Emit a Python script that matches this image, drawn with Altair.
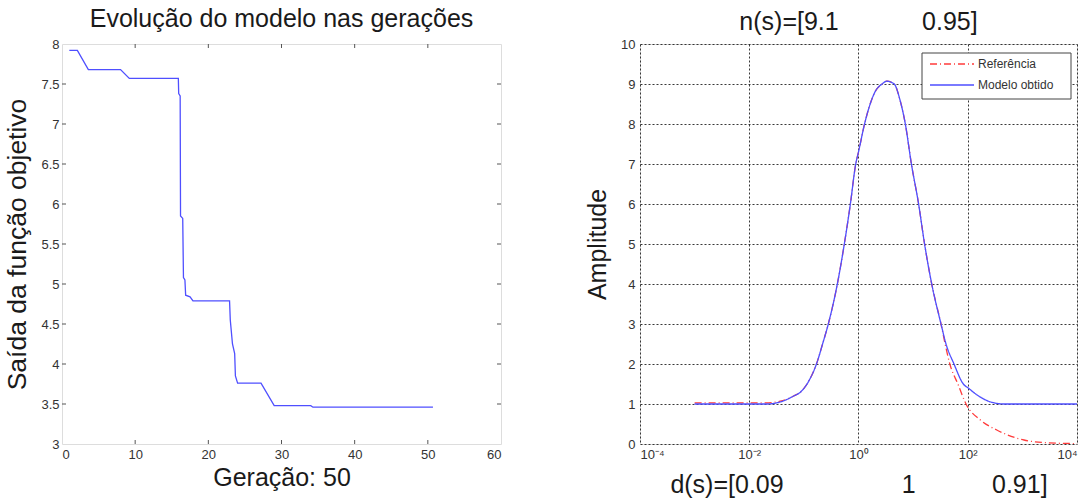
import altair as alt
import pandas as pd

FONT = "Liberation Sans"

# ---- Left panel: evolution of objective function over generations ----
gen = [1, 2.1, 3.6, 8.0, 9.2, 15.9, 15.95, 16.15, 16.2, 16.5, 16.6, 16.8, 16.9,
       17.5, 17.9, 22.9, 23.0, 23.3, 23.6, 23.7, 24.0, 27.2, 29.0, 34.0, 34.3, 50.7]
fobj = [7.92, 7.92, 7.68, 7.68, 7.57, 7.57, 7.38, 7.35, 5.85, 5.82, 5.08, 5.05, 4.86,
        4.84, 4.79, 4.79, 4.55, 4.25, 4.13, 3.85, 3.76, 3.76, 3.48, 3.48, 3.46, 3.46]
left_xticks = [0, 10, 20, 30, 40, 50, 60]
left_yticks = [3, 3.5, 4, 4.5, 5, 5.5, 6, 6.5, 7, 7.5, 8]

# ---- Right panel: frequency response ----
mod_w = [0.001, 0.021, 0.037, 0.065, 0.087, 0.126, 0.17, 0.22, 0.28, 0.41, 0.55, 0.71,
         0.89, 1.0, 1.29, 1.55, 2.0, 2.7, 3.3, 4.5, 5.75, 7.2, 9.3, 12.6, 16.2, 21.9,
         32.4, 40, 56, 83, 102, 158, 263, 457, 10000]
mod_amp = [1.0, 1.0, 1.05, 1.2, 1.3, 1.6, 2.0, 2.5, 3.0, 4.0, 5.0, 6.0,
           7.0, 7.3, 8.0, 8.4, 8.8, 9.0, 9.07, 9.0, 8.6, 8.0, 7.0, 6.0, 5.0, 4.0,
           3.0, 2.5, 2.0, 1.5, 1.4, 1.2, 1.05, 1.0, 1.0]
ref_w = [0.001, 0.02, 0.037, 0.065, 0.087, 0.126, 0.17, 0.22, 0.28, 0.41, 0.55, 0.71,
         0.89, 1.0, 1.29, 1.55, 2.0, 2.7, 3.3, 4.5, 5.75, 7.2, 9.3, 12.6, 16.2, 21.9,
         32.4, 40, 47, 66, 93, 170, 340, 1070, 2900, 10000]
ref_amp = [1.03, 1.03, 1.07, 1.2, 1.3, 1.6, 2.0, 2.5, 3.0, 4.0, 5.0, 6.0,
           7.0, 7.3, 8.0, 8.4, 8.8, 9.0, 9.07, 9.0, 8.6, 8.0, 7.0, 6.0, 5.0, 4.0,
           3.0, 2.4, 2.0, 1.5, 1.0, 0.6, 0.35, 0.1, 0.03, 0.01]
right_xticks = [0.0001, 0.01, 1, 100, 10000]
right_yticks = [0, 1, 2, 3, 4, 5, 6, 7, 8, 9, 10]
series_names = ["Referência", "Modelo obtido"]
series_colors = ["#ff3b3b", "#4f4fff"]
series_dash = [[7, 3, 1, 3], [1, 0]]

LW, RW, H = 439, 437, 400
TICK = 4
TFS = 25   # title font size
LFS = 13   # tick label font size

label_style = dict(labelFont=FONT, labelFontSize=LFS, labelColor="#333333",
                   titleFont=FONT, titleFontWeight="normal",
                   titleColor="#1a1a1a", domain=False, ticks=False, labelOverlap=False)

# Left chart
ldf = pd.DataFrame({"g": gen, "f": fobj, "i": list(range(len(gen)))})
lx = alt.Scale(domain=[0, 60], nice=False)
ly = alt.Scale(domain=[3, 8], nice=False)
lx_axis = alt.Axis(values=left_xticks, title="Geração: 50", grid=False, titleFontSize=TFS,
                   labelPadding=4, titlePadding=4, **label_style)
ly_axis = alt.Axis(values=left_yticks, format="~g", title="Saída da função objetivo",
                   titleFontSize=26.5, grid=False, labelPadding=3, titlePadding=9,
                   **label_style)

left_line = alt.Chart(ldf).mark_line(color="#4f4fff", strokeWidth=1.3).encode(
    x=alt.X("g:Q", scale=lx, axis=lx_axis),
    y=alt.Y("f:Q", scale=ly, axis=ly_axis),
    order="i:Q",
)

xt_df = pd.DataFrame({"t": left_xticks[1:-1]})
yt_df = pd.DataFrame({"t": left_yticks[1:-1]})
tick_color = "#555555"
xt_bot = alt.Chart(xt_df).mark_rule(color=tick_color).encode(
    x=alt.X("t:Q", scale=lx, axis=lx_axis), y=alt.value(H), y2=alt.value(H - TICK))
xt_top = alt.Chart(xt_df).mark_rule(color=tick_color).encode(
    x=alt.X("t:Q", scale=lx, axis=lx_axis), y=alt.value(0), y2=alt.value(TICK))
yt_left = alt.Chart(yt_df).mark_rule(color=tick_color).encode(
    y=alt.Y("t:Q", scale=ly, axis=ly_axis), x=alt.value(0), x2=alt.value(TICK))
yt_right = alt.Chart(yt_df).mark_rule(color=tick_color).encode(
    y=alt.Y("t:Q", scale=ly, axis=ly_axis), x=alt.value(LW), x2=alt.value(LW - TICK))

left = alt.layer(left_line, xt_bot, xt_top, yt_left, yt_right).properties(
    width=LW, height=H,
    title=alt.TitleParams("Evolução do modelo nas gerações", font=FONT, fontSize=TFS,
                          fontWeight="normal", color="#1a1a1a", offset=6),
)

# Right chart
rows = []
for w, a in zip(ref_w, ref_amp):
    rows.append({"w": w, "a": a, "s": series_names[0]})
for w, a in zip(mod_w, mod_amp):
    rows.append({"w": w, "a": a, "s": series_names[1]})
rdf = pd.DataFrame(rows)

sup_expr = ("datum.value < 0.001 ? '10⁻⁴' : datum.value < 0.1 ? '10⁻²' : "
            "datum.value < 10 ? '10⁰' : datum.value < 1000 ? '10²' : '10⁴'")

nbsp = "\u00a0"
n_title = "n(s)=[9.1" + nbsp * 12 + "0.95]"
d_title = "d(s)=[0.09" + nbsp * 17 + "1" + nbsp * 11 + "0.91]"

curves = alt.Chart(rdf).mark_line(strokeWidth=1.3, clip=True, interpolate="monotone").encode(
    x=alt.X("w:Q", scale=alt.Scale(type="log", domain=[1e-4, 1e4], nice=False),
            axis=alt.Axis(values=right_xticks, labelExpr=sup_expr, title=d_title,
                          grid=True, gridDash=[2, 2], gridColor="#222222", gridOpacity=0.9,
                          titleFontSize=TFS, labelPadding=4, titlePadding=11, **label_style)),
    y=alt.Y("a:Q", scale=alt.Scale(domain=[0, 10], nice=False),
            axis=alt.Axis(values=right_yticks, title="Amplitude", grid=True,
                          gridDash=[2, 2], gridColor="#222222", gridOpacity=0.9,
                          titleFontSize=TFS, labelPadding=5, titlePadding=10, **label_style)),
    color=alt.Color("s:N", scale=alt.Scale(domain=series_names, range=series_colors),
                    legend=None),
    strokeDash=alt.StrokeDash("s:N", scale=alt.Scale(domain=series_names, range=series_dash),
                              legend=None),
    order=alt.Order("w:Q"),
)

# Hand-drawn legend box (MATLAB style), positioned in pixels inside the plot area
one = pd.DataFrame({"k": [0]})
LX0, LX1, LY0, LY1 = 282, 431, 9, 55
box = alt.Chart(one).mark_rect(fill="white", stroke="#444444", strokeWidth=1).encode(
    x=alt.value(LX0), x2=alt.value(LX1), y=alt.value(LY0), y2=alt.value(LY1))
leg_layers = [box]
for i, name in enumerate(series_names):
    yy = 20 + 21 * i
    leg_layers.append(
        alt.Chart(one).mark_rule(color=series_colors[i], strokeWidth=1.3,
                                 strokeDash=series_dash[i]).encode(
            x=alt.value(290), x2=alt.value(334), y=alt.value(yy)))
    leg_layers.append(
        alt.Chart(one).mark_text(text=name, align="left", baseline="middle", font=FONT,
                                 fontSize=12, color="#333333").encode(
            x=alt.value(338), y=alt.value(yy)))

right = alt.layer(curves, *leg_layers).properties(
    width=RW, height=H,
    title=alt.TitleParams(n_title, font=FONT, fontSize=TFS, fontWeight="normal",
                          color="#1a1a1a", offset=3),
)

chart = alt.hconcat(left, right, spacing=83).configure_view(
    stroke="#777777", strokeWidth=1.5
).configure(padding={"left": 4, "top": 6, "right": 5, "bottom": 2})

chart.save("out.html", embed_options={"renderer": "svg", "actions": False})
